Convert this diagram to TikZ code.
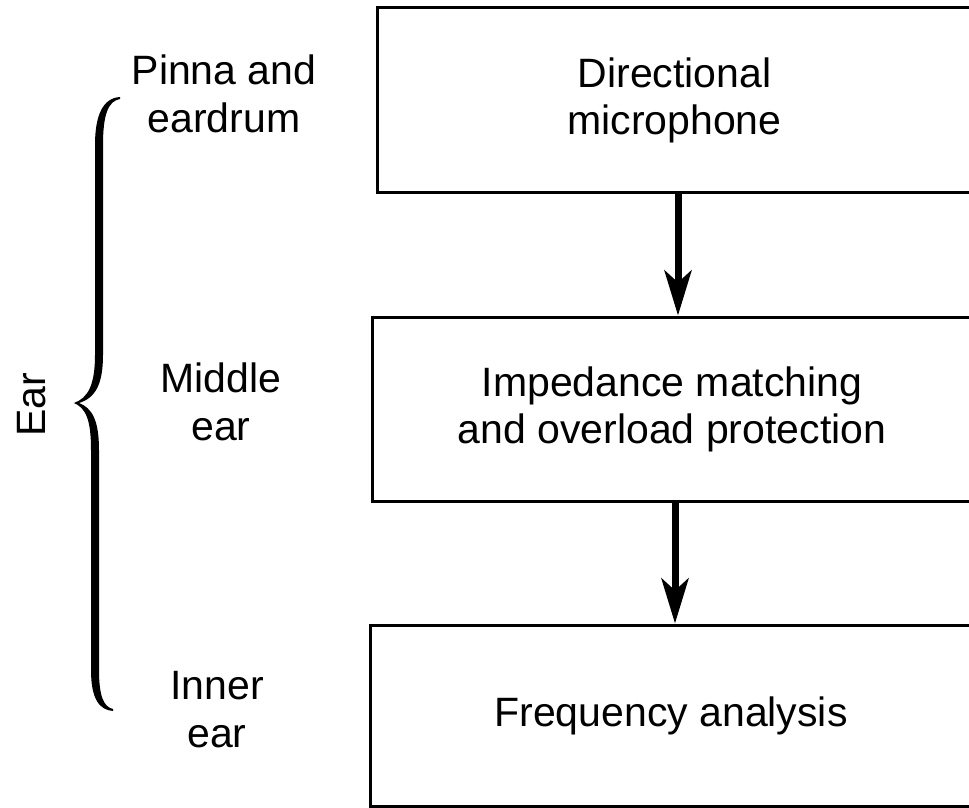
\documentclass[tikz,border=0pt]{standalone}
\usepackage{fontspec}
\setmainfont{Liberation Sans}
\usetikzlibrary{arrows.meta}
\begin{document}
\begin{tikzpicture}[x=1pt,y=-1pt,
  box/.style={draw, line width=3pt, rectangle, inner sep=0pt, align=center,
    font=\fontsize{41}{47}\selectfont},
  lab/.style={align=center, inner sep=0pt, font=\fontsize{41}{48}\selectfont},
  arr/.style={line width=7pt, -{Stealth[length=45pt,width=27pt,inset=12pt]}}]
\clip (0,0) rectangle (969,808);
\fill[white] (0,0) rectangle (969,808);
% boxes (right edges run past the picture)
\node[box, minimum width=595pt, minimum height=184pt] (mic) at (674.5,100) {Directional\\microphone};
\node[box, minimum width=600pt, minimum height=184pt] (imp) at (672,409) {Impedance matching\\and overload protection};
\node[box, minimum width=602pt, minimum height=181pt] (freq) at (671,715.5) {Frequency analysis};
% arrows
\draw[arr] ([xshift=3.5pt]mic.south) -- ([xshift=3.5pt]mic.south |- imp.north);
\draw[arr] ([xshift=3pt]imp.south) -- ([xshift=3pt]imp.south |- freq.north);
% labels
\node[lab] (pinna) at (224,94) {Pinna and\\eardrum};
\node[lab] (middle) at (221,401.5) {Middle\\ear};
\node[lab] (inner) at (217,710) {Inner\\ear};
\node[lab, rotate=90] (ear) at (32,405) {Ear};
% brace
\fill[black] (120,97) .. controls (103,98) and (95,115) .. (95,145)
  -- (95,355) .. controls (95,385) and (88,398) .. (74,403)
  .. controls (86,408) and (91,420) .. (91,450)
  -- (91,670) .. controls (91,700) and (100,710) .. (113,711)
  -- (113,709) .. controls (104,707) and (99,697) .. (99,670)
  -- (99,450) .. controls (99,420) and (92,408) .. (79,403)
  .. controls (95,398) and (103,385) .. (103,355)
  -- (103,145) .. controls (103,115) and (108,101) .. (120,99) -- cycle;
\end{tikzpicture}
\end{document}
